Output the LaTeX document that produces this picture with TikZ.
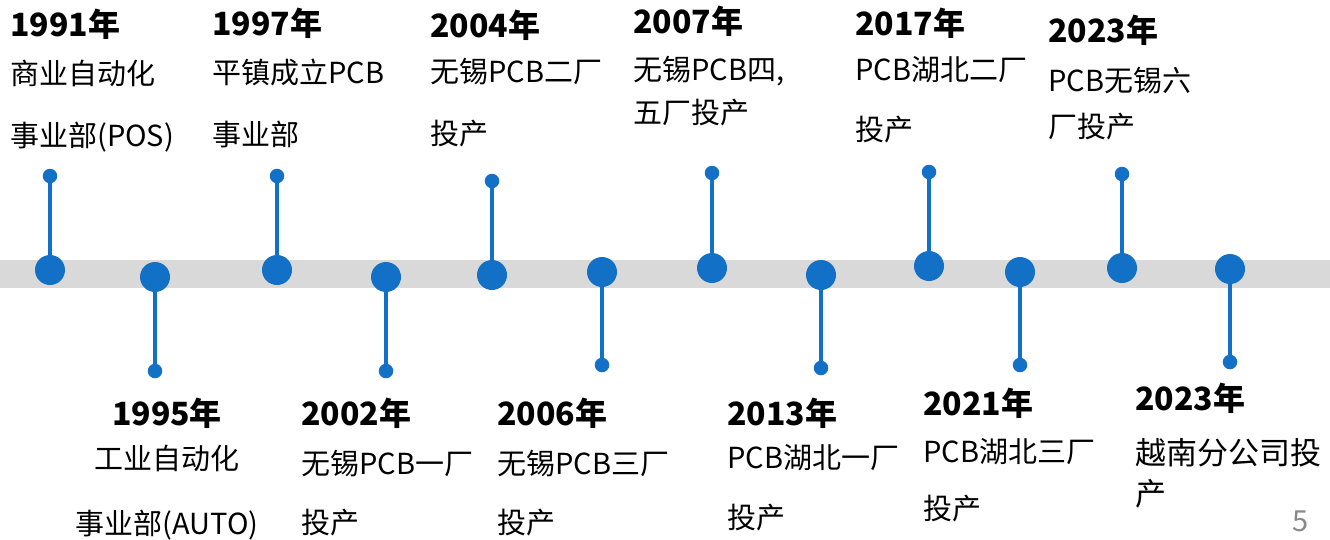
\documentclass[tikz,border=0pt]{standalone}
\usepackage{fontspec}
\setmainfont{Noto Sans CJK SC}
\definecolor{dotblue}{RGB}{18,112,198}
\definecolor{bandgray}{RGB}{217,217,217}
\definecolor{pagegray}{RGB}{137,137,137}

\begin{document}
\begin{tikzpicture}[x=1pt,y=-1pt,
  bigdot/.style={circle,fill=dotblue,inner sep=0pt,minimum size=30pt},
  smalldot/.style={circle,fill=dotblue,inner sep=0pt,minimum size=14.5pt},
  stem/.style={dotblue,line width=4.5pt},
  yearlabel/.style={anchor=base west,inner sep=0pt,font=\fontsize{32}{32}\selectfont\bfseries},
  itemlabel/.style={anchor=base west,inner sep=0pt,font=\fontsize{29}{29}\selectfont}]

% white page and grey band
\useasboundingbox [fill=white] (0,0) rectangle (1330,539);
\fill[bandgray] (0,260) rectangle (1330,288);

% milestones above the band
\node[smalldot] (s1991) at (50,176) {};
\node[smalldot] (s1997) at (277,176) {};
\node[smalldot] (s2004) at (492,181) {};
\node[smalldot] (s2007) at (712,173) {};
\node[smalldot] (s2017) at (929,172) {};
\node[smalldot] (s2023a) at (1122,174) {};

\draw[stem] (s1991) -- (50,270);
\draw[stem] (s1997) -- (277,270);
\draw[stem] (s2004) -- (492,275);
\draw[stem] (s2007) -- (712,268);
\draw[stem] (s2017) -- (929,266);
\draw[stem] (s2023a) -- (1122,268);

\node[bigdot] (d1991) at (50,270) {};
\node[bigdot] (d1997) at (277,270) {};
\node[bigdot] (d2004) at (492,275) {};
\node[bigdot] (d2007) at (712,268) {};
\node[bigdot] (d2017) at (929,266) {};
\node[bigdot] (d2023a) at (1122,268) {};

% milestones below the band
\node[bigdot] (d1995) at (155,277) {};
\node[bigdot] (d2002) at (386,277) {};
\node[bigdot] (d2006) at (602,272) {};
\node[bigdot] (d2013) at (821,275) {};
\node[bigdot] (d2021) at (1020,272) {};
\node[bigdot] (d2023b) at (1230,269) {};

\node[smalldot] (s1995) at (155,371) {};
\node[smalldot] (s2002) at (386,371) {};
\node[smalldot] (s2006) at (602,365) {};
\node[smalldot] (s2013) at (821,368) {};
\node[smalldot] (s2021) at (1020,365) {};
\node[smalldot] (s2023b) at (1230,362) {};

\draw[stem] (d1995) -- (s1995);
\draw[stem] (d2002) -- (s2002);
\draw[stem] (d2006) -- (s2006);
\draw[stem] (d2013) -- (s2013);
\draw[stem] (d2021) -- (s2021);
\draw[stem] (d2023b) -- (s2023b);

% labels, top row
\node[yearlabel] (y1991) at (10,36) {1991年};
\node[itemlabel] (t1991a) at (10,84) {商业自动化};
\node[itemlabel] (t1991b) at (10,146) {事业部(POS)};

\node[yearlabel] (y1997) at (212,35) {1997年};
\node[itemlabel] (t1997a) at (212,83) {平镇成立PCB};
\node[itemlabel] (t1997b) at (212,145) {事业部};

\node[yearlabel] (y2004) at (430,37) {2004年};
\node[itemlabel] (t2004a) at (430,82) {无锡PCB二厂};
\node[itemlabel] (t2004b) at (430,144) {投产};

\node[yearlabel] (y2007) at (633,33) {2007年};
\node[itemlabel] (t2007a) at (633,80) {无锡PCB四,};
\node[itemlabel] (t2007b) at (633,123) {五厂投产};

\node[yearlabel] (y2017) at (855,35) {2017年};
\node[itemlabel] (t2017a) at (855,80) {PCB湖北二厂};
\node[itemlabel] (t2017b) at (855,140) {投产};

\node[yearlabel] (y2023a) at (1048,42) {2023年};
\node[itemlabel] (t2023a) at (1048,91) {PCB无锡六};
\node[itemlabel] (t2023b) at (1048,137) {厂投产};

% labels, bottom row
\node[yearlabel,anchor=base] (y1995) at (167,425) {1995年};
\node[itemlabel,anchor=base] (t1995a) at (167,469) {工业自动化};
\node[itemlabel,anchor=base] (t1995b) at (167,534) {事业部(AUTO)};

\node[yearlabel] (y2002) at (301,425) {2002年};
\node[itemlabel] (t2002a) at (301,474) {无锡PCB一厂};
\node[itemlabel] (t2002b) at (301,533) {投产};

\node[yearlabel] (y2006) at (497,425) {2006年};
\node[itemlabel] (t2006a) at (497,474) {无锡PCB三厂};
\node[itemlabel] (t2006b) at (497,533) {投产};

\node[yearlabel] (y2013) at (727,425) {2013年};
\node[itemlabel] (t2013a) at (727,468) {PCB湖北一厂};
\node[itemlabel] (t2013b) at (727,528) {投产};

\node[yearlabel] (y2021) at (923,415) {2021年};
\node[itemlabel] (t2021a) at (923,462) {PCB湖北三厂};
\node[itemlabel] (t2021b) at (923,519) {投产};

\node[yearlabel] (y2023b) at (1135,410) {2023年};
\node[itemlabel,font=\fontsize{31}{31}\selectfont] (t2023c) at (1135,464) {越南分公司投};
\node[itemlabel,font=\fontsize{31}{31}\selectfont] (t2023d) at (1135,505) {产};

% page number
\node[anchor=base west,inner sep=0pt,text=pagegray,font=\fontsize{29}{29}\selectfont] (pageno) at (1292,531) {5};

\end{tikzpicture}
\end{document}
